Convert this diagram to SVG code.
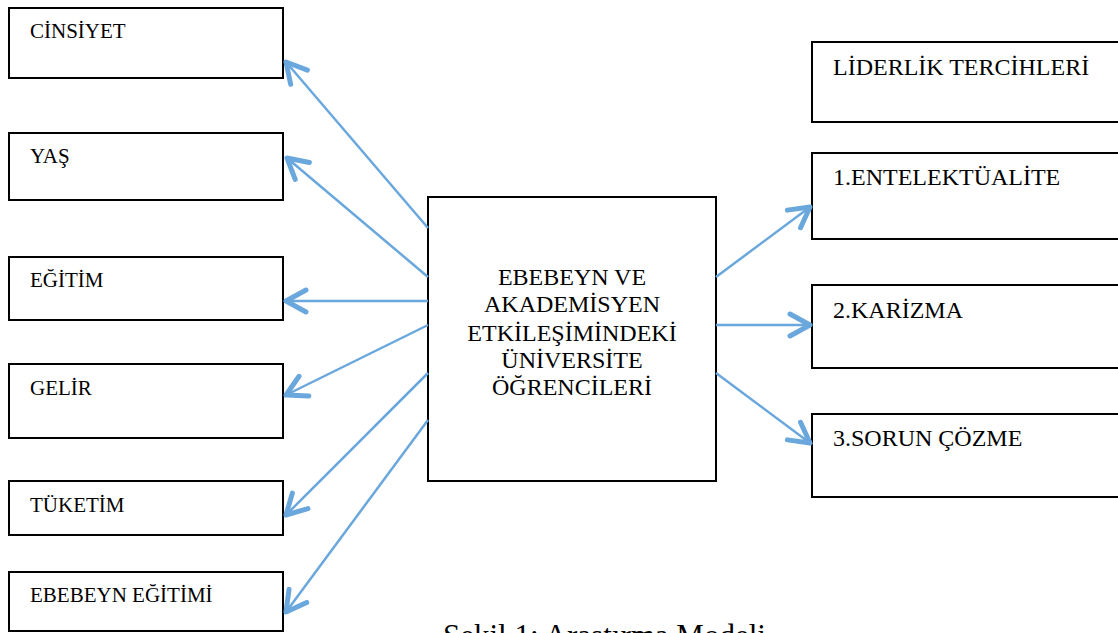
<svg xmlns="http://www.w3.org/2000/svg" width="1118" height="633" viewBox="0 0 1118 633">
<style>
.box{fill:#fff;stroke:#000;stroke-width:2}
.lbl{font-family:"Liberation Serif","Times New Roman",serif;fill:#000}
.l{font-size:21px}
.r{font-size:24px}
.c{font-size:24px;text-anchor:middle}
.con{stroke:#6aa7dc;stroke-width:2.5;fill:none;marker-end:url(#ah)}
</style>
<defs>
<marker id="ah" viewBox="-26 -15 30 30" refX="0" refY="0" markerWidth="30" markerHeight="30" markerUnits="userSpaceOnUse" orient="auto">
<path d="M-20,-11 L0,0 L-20,11" fill="none" stroke="#6aa7dc" stroke-width="5" stroke-linecap="round" stroke-linejoin="round"/>
</marker>
</defs>
<rect width="1118" height="633" fill="#fff"/>
<g id="n-cinsiyet"><rect class="box" x="9" y="8" width="274" height="70"/><text class="lbl l" x="30" y="38">CİNSİYET</text></g>
<g id="n-yas"><rect class="box" x="9" y="133" width="274" height="67"/><text class="lbl l" x="30" y="163">YAŞ</text></g>
<g id="n-egitim"><rect class="box" x="9" y="257" width="274" height="63"/><text class="lbl l" x="30" y="287">EĞİTİM</text></g>
<g id="n-gelir"><rect class="box" x="9" y="364" width="274" height="74"/><text class="lbl l" x="30" y="395">GELİR</text></g>
<g id="n-tuketim"><rect class="box" x="9" y="481" width="274" height="54"/><text class="lbl l" x="30" y="512">TÜKETİM</text></g>
<g id="n-ebeveyn-egitimi"><rect class="box" x="9" y="572" width="274" height="59"/><text class="lbl l" x="30" y="602">EBEBEYN  EĞİTİMİ</text></g>
<g id="n-center"><rect class="box" x="428" y="197" width="288" height="284"/>
<text class="lbl c" x="572" y="285">EBEBEYN VE</text>
<text class="lbl c" x="572" y="312">AKADEMİSYEN</text>
<text class="lbl c" x="572" y="341">ETKİLEŞİMİNDEKİ</text>
<text class="lbl c" x="572" y="368">ÜNİVERSİTE</text>
<text class="lbl c" x="572" y="395">ÖĞRENCİLERİ</text></g>
<g id="n-liderlik"><rect class="box" x="812" y="42" width="310" height="80"/><text class="lbl r" x="833" y="75">LİDERLİK TERCİHLERİ</text></g>
<g id="n-entelektualite"><rect class="box" x="812" y="153" width="310" height="86"/><text class="lbl r" x="833" y="185">1.ENTELEKTÜALİTE</text></g>
<g id="n-karizma"><rect class="box" x="812" y="285" width="310" height="83"/><text class="lbl r" x="833" y="318">2.KARİZMA</text></g>
<g id="n-sorun"><rect class="box" x="812" y="414" width="310" height="83"/><text class="lbl r" x="833" y="446">3.SORUN ÇÖZME</text></g>
<g id="connectors">
<line class="con" x1="428" y1="228" x2="286" y2="62"/>
<line class="con" x1="428" y1="277" x2="287" y2="158"/>
<line class="con" x1="428" y1="301" x2="286" y2="301"/>
<line class="con" x1="428" y1="325" x2="286" y2="395"/>
<line class="con" x1="428" y1="373" x2="286" y2="515"/>
<line class="con" x1="428" y1="420" x2="286" y2="612"/>
<line class="con" x1="716" y1="277" x2="810" y2="207"/>
<line class="con" x1="716" y1="325" x2="810" y2="325"/>
<line class="con" x1="716" y1="373" x2="810" y2="443"/>
</g>
<text class="lbl" x="443" y="646" font-size="31">Şekil 1: Araştırma Modeli</text>
</svg>
